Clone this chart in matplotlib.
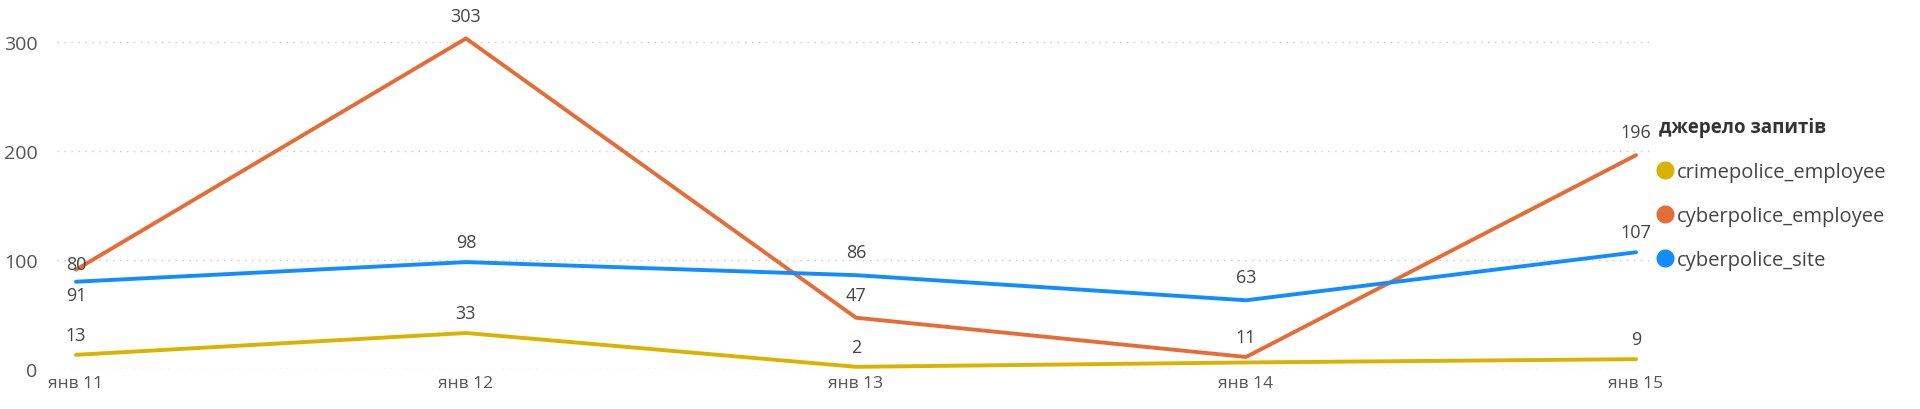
import matplotlib.pyplot as plt

plt.rcParams["font.family"] = ["Segoe UI", "Open Sans", "DejaVu Sans"]

days = ["янв 11", "янв 12", "янв 13", "янв 14", "янв 15"]
crimepolice_employee = [13, 33, 2, 6, 9]
cyberpolice_employee = [91, 303, 47, 11, 196]
cyberpolice_site = [80, 98, 86, 63, 107]

series = [
    ("crimepolice_employee", crimepolice_employee, "#D9B300"),
    ("cyberpolice_employee", cyberpolice_employee, "#E66C37"),
    ("cyberpolice_site", cyberpolice_site, "#118DFF"),
]

# label offsets (points), None = label hidden like in the original
offsets = {
    "crimepolice_employee": [(0, 8), (0, 8), (0, 8), None, (0, 8)],
    "cyberpolice_employee": [(0, -12), (0, 10), (0, 10), (0, 8), (0, 10)],
    "cyberpolice_site": [(0, 6), (0, 8), (0, 10), (0, 10), (0, 8)],
}

fig = plt.figure(figsize=(19.2, 4.1), dpi=100)
ax = fig.add_axes([57 / 1920, 40 / 410, (1655 - 57) / 1920, (370 - 10) / 410])

x = list(range(len(days)))
for name, vals, col in series:
    ax.plot(x, vals, color=col, lw=2.8, solid_capstyle="round", label=name)
    for xi, v, off in zip(x, vals, offsets[name]):
        if off is None:
            continue
        ax.annotate(str(v), (xi, v), xytext=off, textcoords="offset points",
                    ha="center", va="bottom" if off[1] > 0 else "top",
                    fontsize=13, color="#444444", annotation_clip=False)

d = 19 / 390.5
ax.set_xlim(-d, 4 + d)
ax.set_ylim(0, 330)
ax.set_yticks([0, 100, 200, 300])
ax.set_xticks(x)
ax.set_xticklabels(days)
ax.grid(axis="y", linestyle=(0, (1, 4)), color="#C8C8C8", lw=1)
ax.set_axisbelow(True)
for s in ax.spines.values():
    s.set_visible(False)
ax.tick_params(length=0, labelsize=12.5, colors="#555555")
ax.tick_params(axis="y", pad=14, labelsize=14)
ax.tick_params(axis="x", pad=4)

leg = ax.legend(loc="upper left", bbox_to_anchor=(1.0, 0.71), frameon=False,
                title="джерело запитів", fontsize=14.5, title_fontsize=13.5,
                handlelength=0.6, handletextpad=0.3, labelspacing=1.2,
                borderaxespad=0.2, borderpad=0)
leg._legend_box.align = "left"
leg.get_title().set_fontweight("bold")
leg.get_title().set_color("#333333")
for t in leg.get_texts():
    t.set_color("#444444")
for h, (_, _, col) in zip(leg.legend_handles, series):
    h.set_marker("o")
    h.set_markersize(12)
    h.set_linestyle("none")
    h.set_markerfacecolor(col)
    h.set_markeredgecolor(col)

fig.savefig("out.png", dpi=100)
